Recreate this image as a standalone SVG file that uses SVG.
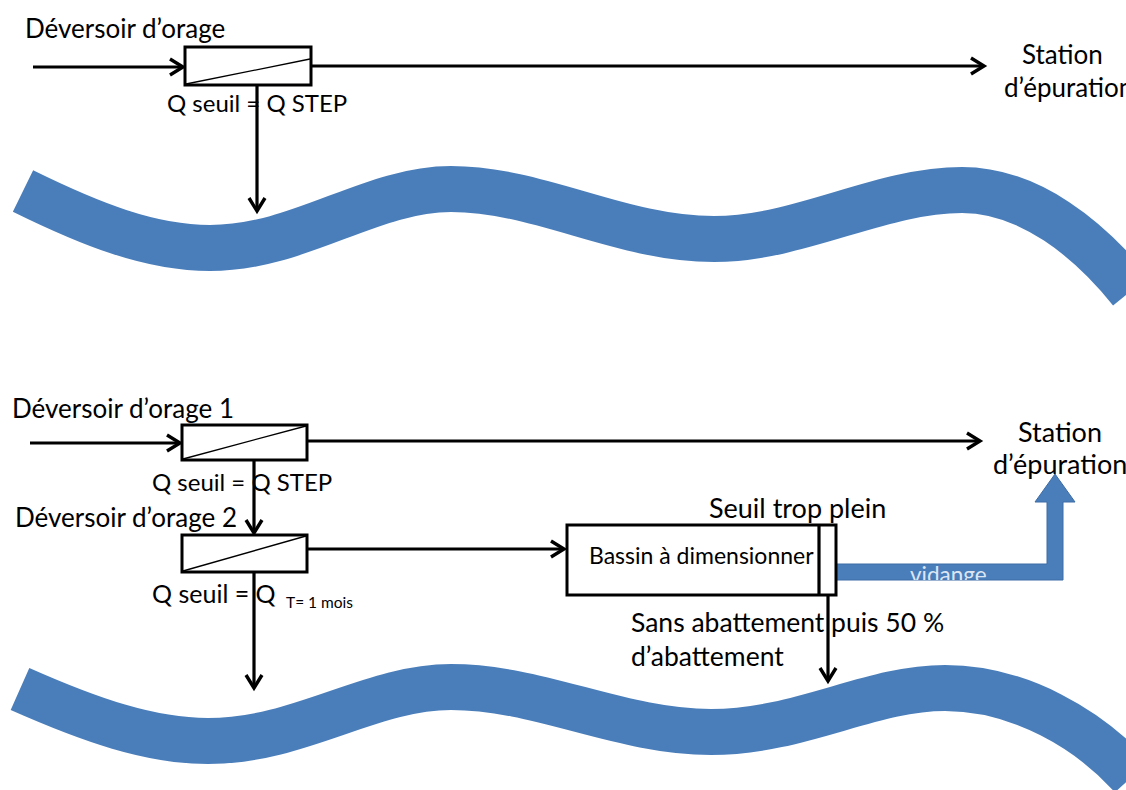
<svg xmlns="http://www.w3.org/2000/svg" width="1126" height="790" viewBox="0 0 1126 790">
<style>
.t{font-family:Lato,"Open Sans","Liberation Sans",sans-serif;font-size:24px;fill:#000}
.l{font-size:26px}
.xl{font-size:27px}
.s{font-size:23px}
.sub{font-size:15.5px}
.ln{stroke:#000;stroke-width:3.2;fill:none}
.box{fill:#fff;stroke:#000;stroke-width:3}
.diag{stroke:#000;stroke-width:1.3}
.river{fill:none;stroke:#4a7ebb;stroke-width:46;stroke-linecap:butt}
</style>
<defs>
<marker id="arr" markerUnits="userSpaceOnUse" markerWidth="20" markerHeight="20" refX="16" refY="10" orient="auto">
<path d="M3,2 L16,10 L3,18" fill="none" stroke="#000" stroke-width="3.4"/>
</marker>
<clipPath id="vclip"><rect x="836" y="564" width="230" height="16"/></clipPath>
</defs>
<g id="river-top"><path class="river" d="M23,191 C90,224 150,248 210,248 C300,248 370,189 451,189 C540,189 620,239 714,239 C800,239 880,190 962,190 C1030,190 1090,240 1131,291"/></g>
<g id="river-bottom"><path class="river" d="M20,689 C90,720 150,741 208,741 C300,741 370,687 451,687 C540,687 620,732 711,732 C800,732 870,688 945,688 C1020,688 1090,730 1132,777"/></g>
<g id="connectors">
<line class="ln" x1="33" y1="67" x2="183" y2="67" marker-end="url(#arr)"/>
<line class="ln" x1="311" y1="66" x2="984" y2="66" marker-end="url(#arr)"/>
<line class="ln" x1="257" y1="85" x2="257" y2="211" marker-end="url(#arr)"/>
<line class="ln" x1="30" y1="443" x2="180" y2="443" marker-end="url(#arr)"/>
<line class="ln" x1="307" y1="441" x2="980" y2="441" marker-end="url(#arr)"/>
<line class="ln" x1="254" y1="460" x2="254" y2="533" marker-end="url(#arr)"/>
<line class="ln" x1="307" y1="549" x2="564" y2="549" marker-end="url(#arr)"/>
<line class="ln" x1="254" y1="572" x2="254" y2="688" marker-end="url(#arr)"/>
<line class="ln" x1="828" y1="595" x2="828" y2="681" marker-end="url(#arr)"/>
</g>
<g id="vidange">
<path d="M836,564 L1047,564 L1047,502 L1035,502 L1055,474 L1075,502 L1063,502 L1063,580 L836,580 Z" fill="#4a7ebb" stroke="#3d6ca5" stroke-width="1"/>
<text class="t" x="910" y="583" style="fill:#dce6f2;font-size:22.5px" clip-path="url(#vclip)">vidange</text>
</g>
<g id="deversoir-top">
<rect class="box" x="185" y="47" width="126" height="38"/>
<line class="diag" x1="186" y1="84" x2="310" y2="59"/>
</g>
<g id="deversoir-1">
<rect class="box" x="182" y="425" width="125" height="35"/>
<line class="diag" x1="183" y1="459" x2="306" y2="426"/>
</g>
<g id="deversoir-2">
<rect class="box" x="182" y="535" width="125" height="37"/>
<line class="diag" x1="183" y1="571" x2="306" y2="536"/>
</g>
<g id="bassin">
<rect class="box" x="567" y="525" width="269" height="70"/>
<line class="ln" x1="819" y1="525" x2="819" y2="595"/>
<text class="t s" x="589" y="564">Bassin à dimensionner</text>
</g>
<g id="labels">
<text class="t l" x="25" y="38">Déversoir d’orage</text>
<text class="t" x="167" y="112">Q seuil = Q STEP</text>
<text class="t l" x="1022" y="64">Station</text>
<text class="t l" x="1004" y="97">d’épuration</text>
<text class="t l" x="12" y="418">Déversoir d’orage 1</text>
<text class="t" x="152" y="491">Q seuil = Q STEP</text>
<text class="t l" x="15" y="527">Déversoir d’orage 2</text>
<text class="t" x="152" y="603" style="font-size:25px">Q seuil = Q</text>
<text class="t sub" x="286" y="608">T= 1 mois</text>
<text class="t xl" x="1018" y="442">Station</text>
<text class="t xl" x="993" y="474">d’épuration</text>
<text class="t xl" x="709" y="518">Seuil trop plein</text>
<text class="t" x="631" y="632" style="font-size:26.5px">Sans abattement puis 50 %</text>
<text class="t" x="631" y="666" style="font-size:26.5px">d’abattement</text>
</g>
</svg>
